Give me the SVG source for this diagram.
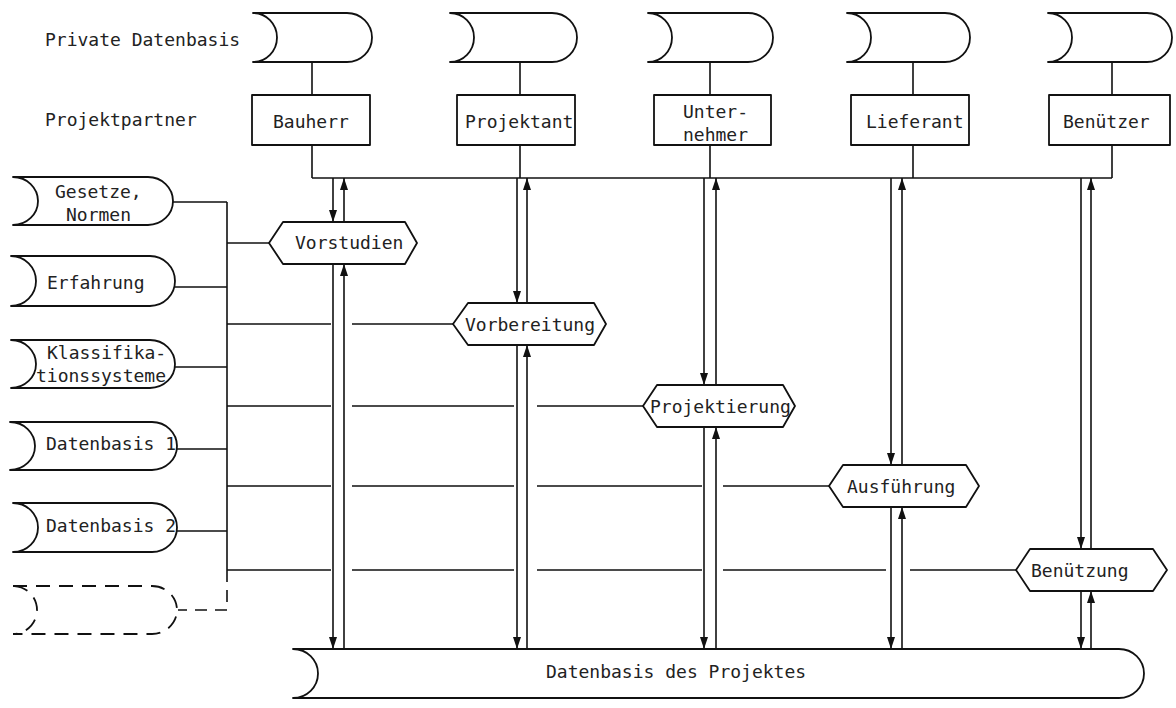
<svg xmlns="http://www.w3.org/2000/svg" width="1176" height="708" viewBox="0 0 1176 708">
<defs>
<marker id="ah" markerUnits="userSpaceOnUse" markerWidth="12" markerHeight="8" refX="12" refY="4" orient="auto">
<path d="M0,0 L12,4 L0,8 z" fill="#111"/>
</marker>
<style>
.s{fill:#fff;stroke:#111;stroke-width:1.8;stroke-linejoin:round}
.d{fill:#fff;stroke:#111;stroke-width:1.8;stroke-dasharray:14,9}
.l{fill:none;stroke:#111;stroke-width:1.6}
.ld{fill:none;stroke:#111;stroke-width:1.6;stroke-dasharray:12,8}
.a{fill:none;stroke:#111;stroke-width:1.6;marker-end:url(#ah)}
text{font-family:"DejaVu Sans Mono","Liberation Mono",monospace;font-size:18px;fill:#222}
</style>
</defs>
<rect width="1176" height="708" fill="#fff"/>

<text x="45" y="46">Private Datenbasis</text>
<text x="45" y="126">Projektpartner</text>

<g id="connectors">
<!-- stems -->
<path class="l" d="M312,62V95M312,145V178M520,62V95M520,145V178M710,62V95M710,145V178M913,62V95M913,145V178M1112,62V95M1112,145V178"/>
<path class="l" d="M312,178H1112"/>
<!-- left bus -->
<path class="l" d="M173,202H227M175,287H227M175,367H227M176,449H227M176,531H227M227,202V570"/>
<path class="ld" d="M227,570V610H178"/>
<!-- horizontal feeds -->
<path class="l" d="M227,243H269"/>
<path class="l" d="M227,324H331M352,324H453"/>
<path class="l" d="M227,406H331M352,406H514M537,406H643"/>
<path class="l" d="M227,486H331M352,486H514M537,486H702M723,486H829"/>
<path class="l" d="M227,570H331M352,570H514M537,570H702M723,570H886M910,570H1016"/>
<!-- arrows Bauherr -->
<line class="a" x1="333" y1="178" x2="333" y2="222"/>
<line class="a" x1="344" y1="222" x2="344" y2="178"/>
<line class="a" x1="333" y1="264" x2="333" y2="649"/>
<line class="a" x1="344" y1="649" x2="344" y2="264"/>
<!-- Projektant -->
<line class="a" x1="517" y1="178" x2="517" y2="303"/>
<line class="a" x1="527" y1="303" x2="527" y2="178"/>
<line class="a" x1="517" y1="345" x2="517" y2="649"/>
<line class="a" x1="527" y1="649" x2="527" y2="345"/>
<!-- Unternehmer -->
<line class="a" x1="704" y1="178" x2="704" y2="385"/>
<line class="a" x1="716" y1="385" x2="716" y2="178"/>
<line class="a" x1="704" y1="427" x2="704" y2="649"/>
<line class="a" x1="716" y1="649" x2="716" y2="427"/>
<!-- Lieferant -->
<line class="a" x1="891" y1="178" x2="891" y2="465"/>
<line class="a" x1="902" y1="465" x2="902" y2="178"/>
<line class="a" x1="891" y1="507" x2="891" y2="649"/>
<line class="a" x1="902" y1="649" x2="902" y2="507"/>
<!-- Benützer -->
<line class="a" x1="1081" y1="178" x2="1081" y2="549"/>
<line class="a" x1="1091" y1="549" x2="1091" y2="178"/>
<line class="a" x1="1081" y1="591" x2="1081" y2="649"/>
<line class="a" x1="1091" y1="649" x2="1091" y2="591"/>
</g>

<!-- private storages -->
<g id="priv-bauherr"><path class="s" d="M253,13H347A25,24.5 0 0 1 347,62H253A24,24.5 0 0 0 253,13z"/></g>
<g id="priv-projektant"><path class="s" d="M450,13H552A25,24.5 0 0 1 552,62H450A24,24.5 0 0 0 450,13z"/></g>
<g id="priv-unternehmer"><path class="s" d="M648,13H748A25,24.5 0 0 1 748,62H648A24,24.5 0 0 0 648,13z"/></g>
<g id="priv-lieferant"><path class="s" d="M847,13H945A25,24.5 0 0 1 945,62H847A24,24.5 0 0 0 847,13z"/></g>
<g id="priv-benuetzer"><path class="s" d="M1048,13H1147A25,24.5 0 0 1 1147,62H1048A24,24.5 0 0 0 1048,13z"/></g>

<!-- partner boxes -->
<g id="bauherr"><rect class="s" x="252" y="95" width="118" height="50"/><text x="273" y="128">Bauherr</text></g>
<g id="projektant"><rect class="s" x="457" y="95" width="118" height="50"/><text x="465" y="128">Projektant</text></g>
<g id="unternehmer"><rect class="s" x="654" y="95" width="117" height="50"/><text x="683" y="118">Unter-</text><text x="683" y="141">nehmer</text></g>
<g id="lieferant"><rect class="s" x="851" y="95" width="118" height="50"/><text x="866" y="128">Lieferant</text></g>
<g id="benuetzer"><rect class="s" x="1049" y="95" width="121" height="50"/><text x="1063" y="128">Benützer</text></g>

<!-- left storages -->
<g id="gesetze"><path class="s" d="M13,177H148A25,24 0 0 1 148,225H13A25,24 0 0 0 13,177z"/><text x="55" y="198">Gesetze,</text><text x="66" y="221">Normen</text></g>
<g id="erfahrung"><path class="s" d="M11,256H150A25,25 0 0 1 150,306H11A25,25 0 0 0 11,256z"/><text x="47" y="289">Erfahrung</text></g>
<g id="klassifikation"><path class="s" d="M11,340H150A25,24 0 0 1 150,388H11A25,24 0 0 0 11,340z"/><text x="47" y="359">Klassifika-</text><text x="36" y="382">tionssysteme</text></g>
<g id="datenbasis1"><path class="s" d="M10,422H152A25,24 0 0 1 152,470H10A25,24 0 0 0 10,422z"/><text x="46" y="450">Datenbasis 1</text></g>
<g id="datenbasis2"><path class="s" d="M13,503H152A25,24.5 0 0 1 152,552H13A25,24.5 0 0 0 13,503z"/><text x="46" y="532">Datenbasis 2</text></g>
<g id="weitere"><path class="d" d="M13,586H152A25,24 0 0 1 152,634H13A24,24 0 0 0 13,586z"/></g>

<!-- phases -->
<g id="vorstudien"><path class="s" d="M269,243L283,222H405L417,243L405,264H283z"/><text x="295" y="249">Vorstudien</text></g>
<g id="vorbereitung"><path class="s" d="M453,324L468,303H594L606,324L594,345H468z"/><text x="465" y="331">Vorbereitung</text></g>
<g id="projektierung"><path class="s" d="M643,406L657,385H783L795,406L783,427H657z"/><text x="650" y="413">Projektierung</text></g>
<g id="ausfuehrung"><path class="s" d="M829,486L843,465H966L979,486L966,507H843z"/><text x="847" y="493">Ausführung</text></g>
<g id="benuetzung"><path class="s" d="M1016,570L1030,549H1153L1167,570L1153,591H1030z"/><text x="1031" y="577">Benützung</text></g>

<!-- project database -->
<g id="projekt-db"><path class="s" d="M293,649H1119A25,24.5 0 0 1 1119,698H293A25,24.5 0 0 0 293,649z"/><text x="546" y="678">Datenbasis des Projektes</text></g>
</svg>
